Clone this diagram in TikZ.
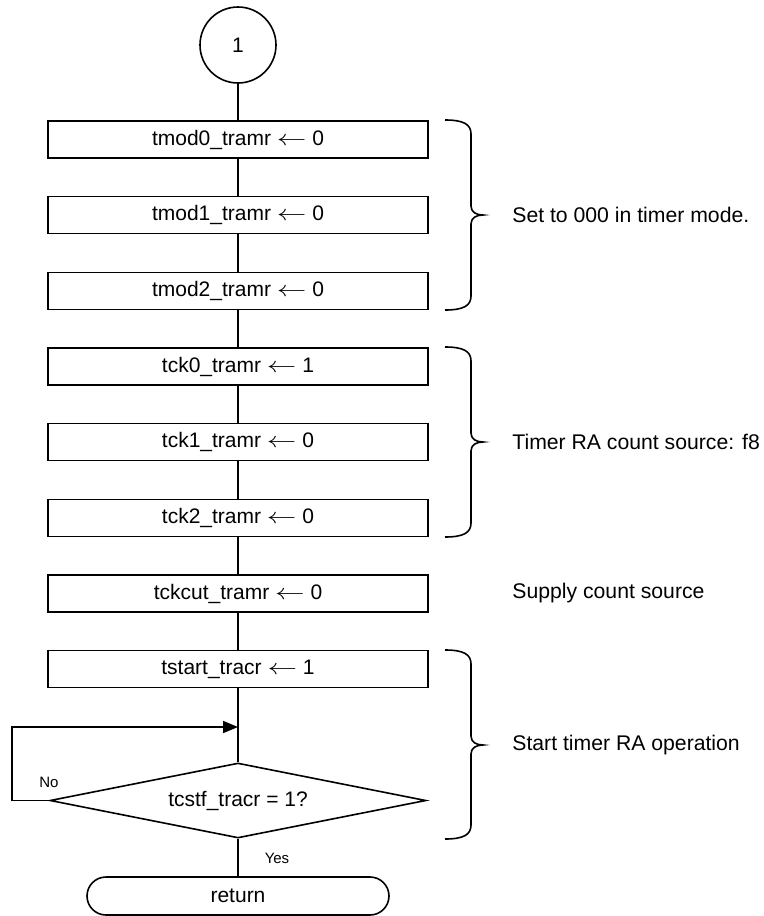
\documentclass[tikz,border=0pt]{standalone}
\usepackage{fontspec}
\usepackage{graphicx}
\setmainfont{Liberation Sans}
\usetikzlibrary{shapes.geometric,arrows.meta}

% assignment arrow, a little longer than the plain one
\newcommand\assign{\scalebox{1.35}[1]{$\leftarrow$}}

% right-hand curly brace: top y, middle y, bottom y
\newcommand\sidebrace[3]{%
  \draw[ln] (445,#1) .. controls (463,#1) and (471,#1+4) .. (471,#1+14)
    -- (471,#2-9) .. controls (471,#2-3) and (476,#2) .. (483,#2)
    .. controls (476,#2) and (471,#2+3) .. (471,#2+9)
    -- (471,#3-14) .. controls (471,#3-4) and (463,#3) .. (445,#3);}

\begin{document}
\begin{tikzpicture}[x=0.5pt,y=-0.5pt,
  every node/.style={font=\fontsize{10.5}{12}\selectfont},
  ln/.style={line width=0.8pt},
  small/.style={font=\fontsize{7.5}{9}\selectfont},
  box/.style={draw,ln,minimum width=190pt,minimum height=18.5pt,inner sep=0pt},
  conn/.style={draw,ln,circle,minimum size=38pt,inner sep=0pt},
  decision/.style={draw,ln,diamond,minimum width=188pt,minimum height=37.5pt,inner sep=0pt,aspect=5},
  terminal/.style={draw,ln,rectangle,rounded corners=9.5pt,minimum width=151pt,minimum height=19pt,inner sep=0pt},
  note/.style={anchor=west,inner sep=0pt,font=\fontsize{10.6}{12}\selectfont},
  flow/.style={ln}]
\useasboundingbox (0,0) rectangle (764,916);

\node[conn] (c1) at (238,45) {1};
\node[box] (b1) at (238,139.5) {tmod0\_tramr \assign{} 0};
\node[box] (b2) at (238,215) {tmod1\_tramr \assign{} 0};
\node[box] (b3) at (238,291) {tmod2\_tramr \assign{} 0};
\node[box] (b4) at (238,366.5) {tck0\_tramr \assign{} 1};
\node[box] (b5) at (238,442) {tck1\_tramr \assign{} 0};
\node[box] (b6) at (238,518) {tck2\_tramr \assign{} 0};
\node[box] (b7) at (238,593.5) {tckcut\_tramr \assign{} 0};
\node[box] (b8) at (238,669) {tstart\_tracr \assign{} 1};
\node[decision] (d1) at (238,800.5) {tcstf\_tracr = 1?};
\node[terminal] (r1) at (238,896) {return};

\coordinate (j) at (238,727);
\coordinate (lp1) at (12,800.5);
\coordinate (lp2) at (12,727);

\draw[flow] (c1) -- (b1);
\draw[flow] (b1) -- (b2);
\draw[flow] (b2) -- (b3);
\draw[flow] (b3) -- (b4);
\draw[flow] (b4) -- (b5);
\draw[flow] (b5) -- (b6);
\draw[flow] (b6) -- (b7);
\draw[flow] (b7) -- (b8);
\draw[flow] (b8) -- (d1);
\draw[flow] (d1) -- (r1);
\draw[flow,-{Triangle[length=7.5pt,width=6pt]}] (d1.west) -- (lp1) -- (lp2) -- (j);

\node[small] (no) at (49,782) {No};
\node[small] (yes) at (277,858) {Yes};

\sidebrace{120}{215}{310}
\sidebrace{347}{442}{537}
\sidebrace{650}{745}{839}

\node[note] (t1) at (512,215) {Set to 000 in timer mode.};
\node[note] (t2) at (512,442) {Timer RA count source: f8};
\node[note] (t3) at (512,593.5) {Supply count source};
\node[note] (t4) at (512,745) {Start timer RA operation};
\end{tikzpicture}
\end{document}
